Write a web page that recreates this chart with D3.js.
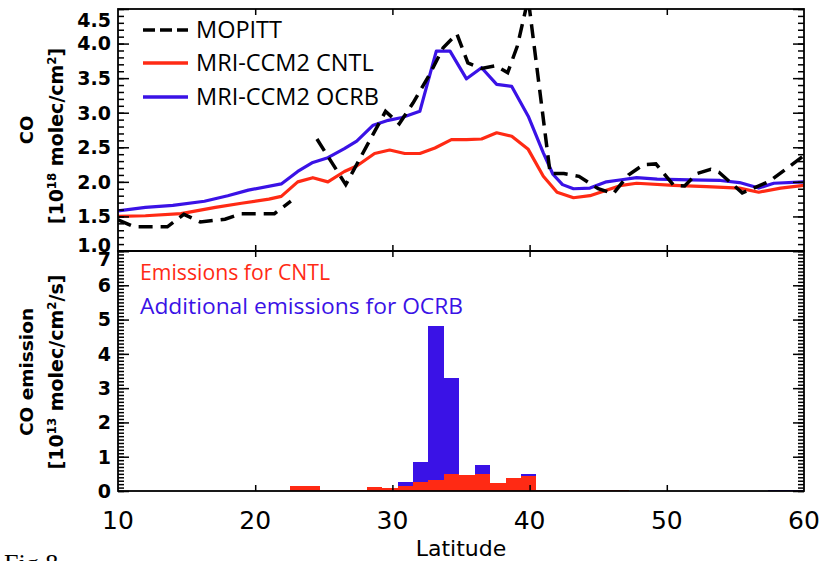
<!DOCTYPE html>
<html><head><meta charset="utf-8">
<script src="https://cdn.jsdelivr.net/npm/d3@7"></script>
<style>
body{margin:0;background:#fff;}
svg{display:block;}
</style></head>
<body>
<svg id="chart" width="823" height="561"></svg>
<script>
// ---------- DATA ----------
const mopittLat = [10.0,11.2,13.6,14.8,16.0,17.8,19.0,21.4,22.6,23.5,24.5,26.6,29.5,30.5,31.5,32.7,33.7,34.7,35.5,36.5,37.5,38.4,39.1,39.9,41.5,42.5,43.6,45.0,46.1,47.2,48.3,49.2,50.5,51.3,52.2,53.2,53.8,55.5,57.5,60.0];
const mopittCO  = [1.45,1.35,1.35,1.53,1.42,1.46,1.54,1.54,1.72,null,2.62,1.96,3.02,2.84,3.14,3.55,3.94,4.14,3.72,3.64,3.68,3.58,3.96,4.65,2.12,2.12,2.08,1.90,1.83,2.10,2.25,2.26,1.95,1.94,2.12,2.18,2.14,1.84,2.01,2.38];

const ocrbLat = [10.0,12.0,14.0,16.3,18.0,19.5,21.9,23.1,24.2,25.3,26.5,27.4,28.6,29.7,30.7,32.0,33.2,34.2,35.4,36.5,37.6,38.7,39.9,41.0,41.7,42.4,43.2,44.4,45.6,46.7,47.8,49.3,51.7,53.9,55.3,56.7,57.8,60.0];
const ocrbCO  = [1.58,1.63,1.66,1.72,1.80,1.88,1.97,2.15,2.28,2.35,2.48,2.59,2.82,2.89,2.93,3.02,3.89,3.89,3.49,3.65,3.41,3.38,2.95,2.42,2.11,1.96,1.90,1.91,2.00,2.03,2.06,2.04,2.03,2.02,1.99,1.91,1.98,2.00];

const cntlLat = [10.0,12.0,14.6,17.1,19.0,21.0,21.9,23.1,24.2,25.3,26.5,27.4,28.7,29.8,30.9,32.0,33.1,34.3,35.4,36.5,37.6,38.7,39.9,41.0,42.0,43.2,44.4,45.6,46.7,47.8,50.5,52.9,55.3,56.7,58.3,60.0];
const cntlCO  = [1.50,1.51,1.54,1.63,1.69,1.75,1.79,2.00,2.06,2.00,2.15,2.23,2.41,2.46,2.41,2.41,2.49,2.61,2.61,2.62,2.71,2.66,2.47,2.08,1.85,1.77,1.80,1.88,1.95,1.98,1.95,1.93,1.91,1.85,1.91,1.95];

// emission bins (start latitude of each 1.125 deg bin)
const binStart = [22.5,23.625,24.75,25.875,27.0,28.125,29.25,30.375,31.5,32.625,33.75,34.875,36.0,37.125,38.25,39.375,40.5,41.625,42.75,43.875,45.0,46.125,47.25,48.375,49.5,50.625,51.75,52.875,54.0,55.125,56.25,57.375,58.5,59.625];
const binWidth = 1.125;
const emisCNTL = [0.16,0.15,0.04,0.02,0.04,0.13,0.08,0.15,0.25,0.32,0.49,0.46,0.49,0.22,0.37,0.44,0.04,0.02,0.02,0.02,0.02,0.02,0.01,0.01,0.01,0.01,0.01,0.01,0.01,0.01,0.01,0.01,0.01,0.01];
const emisAdd  = [0,0,0,0,0,0,0,0.10,0.60,4.50,2.82,0,0.26,0,0.02,0.05,0,0,0,0,0,0,0,0,0,0,0,0,0,0,0,0.01,0.01,0.01];

const xTicks = [10,20,30,40,50,60];
const yTopTicks = [1.0,1.5,2.0,2.5,3.0,3.5,4.0,4.5];
const yBotTicks = [0,1,2,3,4,5,6,7];

const legendTop = ["MOPITT","MRI-CCM2 CNTL","MRI-CCM2 OCRB"];
const legendBot = ["Emissions for CNTL","Additional emissions for OCRB"];

// ---------- LAYOUT ----------
const RED = "#ff2a14", BLUE = "#3a12e6";
const L = 118, R = 804, T = 9, M = 251, B = 491;
const svg = d3.select("#chart");

const x = d3.scaleLinear().domain([10,60]).range([L,R]);
const yT = d3.scaleLinear().domain([1.0,4.5]).range([M,T]);
const yB = d3.scaleLinear().domain([0,7]).range([B,M]);

const defs = svg.append("defs");
defs.append("clipPath").attr("id","clipTop")
  .append("rect").attr("x",L).attr("y",T).attr("width",R-L).attr("height",M-T);
defs.append("clipPath").attr("id","clipBot")
  .append("rect").attr("x",L).attr("y",M).attr("width",R-L).attr("height",B-M);

// ---------- BARS ----------
const bars = binStart.map((s,i)=>({s, e:Math.min(s+binWidth,60), c:emisCNTL[i], a:emisAdd[i]}));
const gb = svg.append("g").attr("clip-path","url(#clipBot)");
gb.selectAll("rect.add").data(bars.filter(d=>d.a>0)).join("rect")
  .attr("x",d=>x(d.s)).attr("width",d=>x(d.e)-x(d.s))
  .attr("y",d=>yB(d.c+d.a)).attr("height",d=>yB(0)-yB(d.c+d.a))
  .attr("fill",BLUE).attr("shape-rendering","crispEdges");
gb.selectAll("rect.cntl").data(bars).join("rect")
  .attr("x",d=>x(d.s)).attr("width",d=>x(d.e)-x(d.s))
  .attr("y",d=>yB(d.c)).attr("height",d=>yB(0)-yB(d.c))
  .attr("fill",RED).attr("shape-rendering","crispEdges");

// ---------- LINES ----------
const gl = svg.append("g").attr("clip-path","url(#clipTop)");
function mkLine(){ return d3.line().defined(d=>d[1]!==null).x(d=>x(d[0])).y(d=>yT(d[1])); }
const zip = (a,b)=>a.map((v,i)=>[v,b[i]]);
gl.append("path").datum(zip(cntlLat,cntlCO)).attr("d",mkLine())
  .attr("fill","none").attr("stroke",RED).attr("stroke-width",3.2).attr("stroke-linejoin","round");
gl.append("path").datum(zip(ocrbLat,ocrbCO)).attr("d",mkLine())
  .attr("fill","none").attr("stroke",BLUE).attr("stroke-width",3.2).attr("stroke-linejoin","round");
gl.append("path").datum(zip(mopittLat,mopittCO)).attr("d",mkLine())
  .attr("fill","none").attr("stroke","#000").attr("stroke-width",3.5).attr("stroke-dasharray","14,8");

// ---------- AXES ----------
function styleAxis(g){
  g.select(".domain").remove();
  g.selectAll(".tick line").attr("stroke","#000").attr("stroke-width",1.5);
}
function yAxes(scale, minor, major){
  [[L,d3.axisRight],[R,d3.axisLeft]].forEach(([xx,ax])=>{
    svg.append("g").attr("transform",`translate(${xx},0)`)
      .call(ax(scale).tickValues(minor).tickSize(6).tickFormat("")).call(styleAxis);
    svg.append("g").attr("transform",`translate(${xx},0)`)
      .call(ax(scale).tickValues(major).tickSize(11).tickFormat("")).call(styleAxis);
  });
}
yAxes(yT, yT.ticks(35), yTopTicks);
yAxes(yB, yB.ticks(70), yBotTicks);
[[T,"down"],[M,"up"],[M,"down"],[B,"up"]].forEach(([yy,dir])=>{
  svg.append("g").attr("transform",`translate(0,${yy})`)
    .call((dir==="up"?d3.axisTop(x):d3.axisBottom(x)).tickValues(xTicks.slice(1,-1)).tickSize(6).tickFormat(""))
    .call(styleAxis);
});
svg.append("rect").attr("x",L).attr("y",T).attr("width",R-L).attr("height",M-T)
  .attr("fill","none").attr("stroke","#000").attr("stroke-width",1.8);
svg.append("rect").attr("x",L).attr("y",M).attr("width",R-L).attr("height",B-M)
  .attr("fill","none").attr("stroke","#000").attr("stroke-width",1.8);

// tick labels
const labFont = "DejaVu Sans";
svg.append("g").selectAll("text").data(yTopTicks).join("text")
  .attr("x",L-7).attr("y",d=>yT(d)).attr("dy",(d,i)=> i===yTopTicks.length-1 ? "0.95em" : (i===0 ? "0.05em":"0.36em"))
  .attr("text-anchor","end").attr("font-family",labFont).attr("font-weight","bold").attr("font-size",19)
  .text(d=>d.toFixed(1));
svg.append("g").selectAll("text").data(yBotTicks).join("text")
  .attr("x",L-7).attr("y",d=>yB(d)).attr("dy",(d,i)=> i===yBotTicks.length-1 ? "0.8em" : "0.36em")
  .attr("text-anchor","end").attr("font-family",labFont).attr("font-weight","bold").attr("font-size",19)
  .text(d=>d);
svg.append("g").selectAll("text").data(xTicks).join("text")
  .attr("x",d=>x(d)).attr("y",529)
  .attr("text-anchor","middle").attr("font-family",labFont).attr("font-size",25)
  .text(d=>d);
svg.append("text").attr("x",461).attr("y",556).attr("text-anchor","middle")
  .attr("font-family",labFont).attr("font-size",22).text("Latitude");

// y titles
function yTitle(cx,cy,size,parts){
  const t = svg.append("text").attr("transform",`translate(${cx},${cy}) rotate(-90)`)
    .attr("text-anchor","middle").attr("font-family",labFont).attr("font-weight","bold").attr("font-size",size);
  parts.forEach(p=>{
    const s = t.append("tspan").text(p[0]);
    if(p[1]==="sup") s.attr("font-size",size*0.62).attr("baseline-shift","super");
  });
}
yTitle(33,130,18,[["CO"]]);
yTitle(63,136,19,[["[10"],["18","sup"],[" molec/cm"],["2","sup"],["]"]]);
yTitle(33,372,18.5,[["CO emission"]]);
yTitle(63,372,19,[["[10"],["13","sup"],[" molec/cm"],["2","sup"],["/s]"]]);

// legends
const lgFont = "Open Sans";
const lgY = [30,63,97];
const lgStyle = [{c:"#000",d:"12,5"},{c:RED,d:null},{c:BLUE,d:null}];
legendTop.forEach((name,i)=>{
  const ln = svg.append("line").attr("x1",143).attr("x2",188).attr("y1",lgY[i]).attr("y2",lgY[i])
    .attr("stroke",lgStyle[i].c).attr("stroke-width",3.5);
  if(lgStyle[i].d) ln.attr("stroke-dasharray",lgStyle[i].d);
  svg.append("text").attr("x",196).attr("y",lgY[i]).attr("dy","0.36em")
    .attr("font-family",lgFont).attr("font-size",23.5).attr("fill","#000").text(name);
});
const lbY = [272,306], lbC = [RED,BLUE], lbW = [190,323];
legendBot.forEach((name,i)=>{
  svg.append("text").attr("x",140).attr("y",lbY[i]).attr("dy","0.36em")
    .attr("font-family",lgFont).attr("font-size",22).attr("fill",lbC[i])
    .attr("textLength",lbW[i]).attr("lengthAdjust","spacingAndGlyphs").text(name);
});

// figure caption (cut off at the bottom edge)
svg.append("text").attr("x",4).attr("y",572).attr("font-family","Liberation Serif")
  .attr("font-size",26).text("Fig.8");
</script>
</body></html>
